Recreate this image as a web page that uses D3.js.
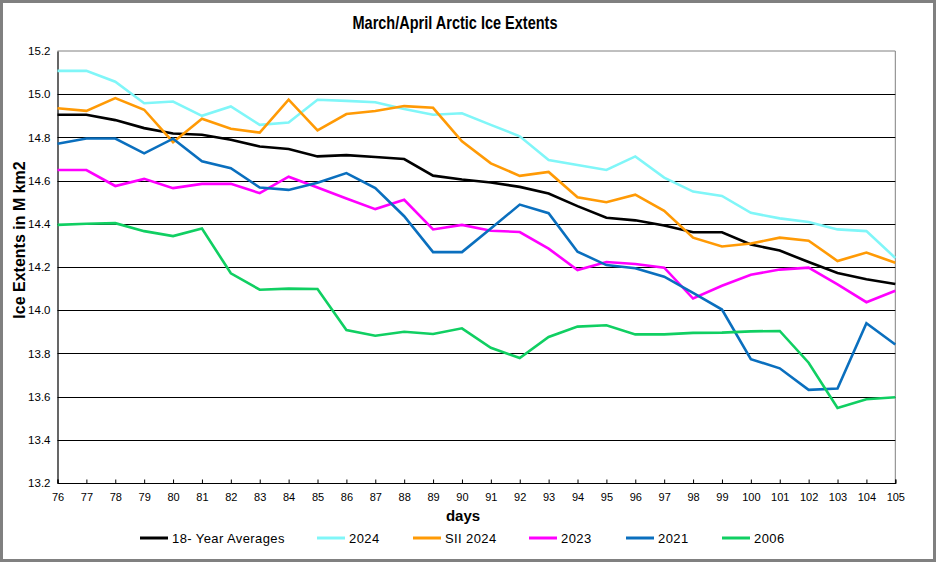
<!DOCTYPE html>
<html>
<head>
<meta charset="utf-8">
<script src="https://cdn.jsdelivr.net/npm/d3@7"></script>
<style>
  html, body { margin: 0; padding: 0; background: #fff; }
  svg { display: block; font-family: Arial, "Liberation Sans", sans-serif; }
</style>
</head>
<body>
<svg id="chart" width="936" height="562"></svg>
<script>
const days = [76,77,78,79,80,81,82,83,84,85,86,87,88,89,90,91,92,93,94,95,96,97,98,99,100,101,102,103,104,105];
const yTicks = [13.2,13.4,13.6,13.8,14.0,14.2,14.4,14.6,14.8,15.0,15.2];

const avg18 = [14.905,14.905,14.880,14.843,14.818,14.812,14.789,14.758,14.746,14.712,
               14.718,14.709,14.700,14.623,14.605,14.591,14.571,14.540,14.482,14.428,
               14.416,14.392,14.361,14.361,14.304,14.276,14.223,14.172,14.143,14.121];
const y2024 = [15.108,15.108,15.058,14.958,14.966,14.900,14.943,14.858,14.869,14.974,
               14.969,14.963,14.931,14.905,14.912,14.858,14.805,14.695,14.672,14.649,
               14.712,14.614,14.549,14.529,14.451,14.425,14.408,14.374,14.366,14.242];
const sii2024 = [14.935,14.923,14.982,14.928,14.778,14.886,14.840,14.822,14.975,14.832,
                 14.908,14.922,14.945,14.937,14.782,14.680,14.622,14.640,14.523,14.500,
                 14.535,14.460,14.336,14.295,14.309,14.336,14.322,14.228,14.267,14.220];
const y2023 = [14.649,14.649,14.575,14.608,14.565,14.585,14.585,14.542,14.618,14.568,
               14.517,14.468,14.511,14.374,14.395,14.368,14.362,14.285,14.186,14.223,
               14.214,14.197,14.054,14.113,14.164,14.188,14.197,14.119,14.037,14.090];
const y2021 = [14.771,14.795,14.795,14.726,14.794,14.689,14.657,14.568,14.557,14.590,
               14.635,14.565,14.435,14.269,14.269,14.378,14.489,14.449,14.271,14.209,
               14.194,14.155,14.080,14.003,13.773,13.731,13.631,13.637,13.940,13.841];
const y2006 = [14.395,14.400,14.403,14.366,14.343,14.378,14.171,14.095,14.100,14.098,
               13.908,13.882,13.900,13.890,13.916,13.826,13.779,13.876,13.924,13.930,
               13.888,13.888,13.895,13.896,13.902,13.904,13.757,13.547,13.588,13.597];

const seriesNames = ["18- Year Averages","2024","SII 2024","2023","2021","2006"];
const seriesValues = [avg18, y2024, sii2024, y2023, y2021, y2006];
const seriesColors = ["#000000","#80F6F8","#FF9A05","#FF00FF","#0A6FBE","#10CF62"];

const svg = d3.select("#chart");
const W = 936, H = 562;

// outer frame
svg.append("rect").attr("x",1.5).attr("y",1.5).attr("width",W-3).attr("height",H-3)
  .attr("fill","#fff").attr("stroke","#808080").attr("stroke-width",3);

const plot = {left:57.5, right:895.3, top:51, bottom:483};
const x = d3.scaleLinear().domain([76,105]).range([plot.left, plot.right]);
const y = d3.scaleLinear().domain([13.2,15.2]).range([plot.bottom, plot.top]);

// plot area border (top/right gray)
svg.append("path")
  .attr("d", `M${plot.left},${plot.top}H${plot.right}V${plot.bottom}`)
  .attr("fill","none").attr("stroke","#808080").attr("stroke-width",1);

// gridlines
svg.append("g").selectAll("line").data(yTicks.filter(t => t > 13.2 && t < 15.2)).join("line")
  .attr("x1", plot.left).attr("x2", plot.right)
  .attr("y1", d => Math.round(y(d)) + 0.5).attr("y2", d => Math.round(y(d)) + 0.5)
  .attr("stroke","#000").attr("stroke-width",1);

// y axis
const yAxis = d3.axisLeft(y).tickValues(yTicks).tickSize(0).tickPadding(7)
  .tickFormat(d3.format(".1f"));
const gy = svg.append("g").attr("transform",`translate(${plot.left},0)`).call(yAxis);
gy.select(".domain").attr("stroke","#000").attr("stroke-width",1.2);
gy.selectAll("text").attr("font-size","11.5px").attr("fill","#000")
  .attr("font-family","Arial, 'Liberation Sans', sans-serif");

// x axis (ticks inside)
const xAxis = d3.axisBottom(x).tickValues(days).tickSize(-3.5).tickPadding(10)
  .tickFormat(d3.format("d"));
const gx = svg.append("g").attr("transform",`translate(0,${plot.bottom})`).call(xAxis);
gx.select(".domain").attr("stroke","#000").attr("stroke-width",1.2);
gx.selectAll(".tick line").attr("stroke","#000");
gx.selectAll("text").attr("font-size","11px").attr("fill","#000")
  .attr("font-family","Arial, 'Liberation Sans', sans-serif");

// series lines
const line = d3.line().x((d,i) => x(days[i])).y(d => y(d));
svg.append("g").selectAll("path").data(seriesValues).join("path")
  .attr("d", d => line(d))
  .attr("fill","none")
  .attr("stroke", (d,i) => seriesColors[i])
  .attr("stroke-width", 2.6)
  .attr("stroke-linejoin","miter");

// title
svg.append("text").attr("x",455).attr("y",29).attr("text-anchor","middle")
  .attr("font-size","19px").attr("font-weight","bold")
  .attr("textLength",205).attr("lengthAdjust","spacingAndGlyphs")
  .text("March/April Arctic Ice Extents");

// y label
svg.append("text").attr("transform","translate(25,240) rotate(-90)")
  .attr("text-anchor","middle").attr("font-size","16px").attr("font-weight","bold")
  .text("Ice Extents in M km2");

// x label
svg.append("text").attr("x",463).attr("y",521).attr("text-anchor","middle")
  .attr("font-size","15px").attr("font-weight","bold").text("days");

// legend
const legendX = [140, 317, 413, 529, 626, 722];
const lg = svg.append("g").selectAll("g").data(seriesNames).join("g")
  .attr("transform",(d,i) => `translate(${legendX[i]},538)`);
lg.append("line").attr("x1",0).attr("x2",28).attr("y1",0).attr("y2",0)
  .attr("stroke",(d,i) => seriesColors[i]).attr("stroke-width",3);
lg.append("text").attr("x",32).attr("y",5).attr("font-size","13px")
  .attr("letter-spacing","0.4px").text(d => d);
</script>
</body>
</html>
